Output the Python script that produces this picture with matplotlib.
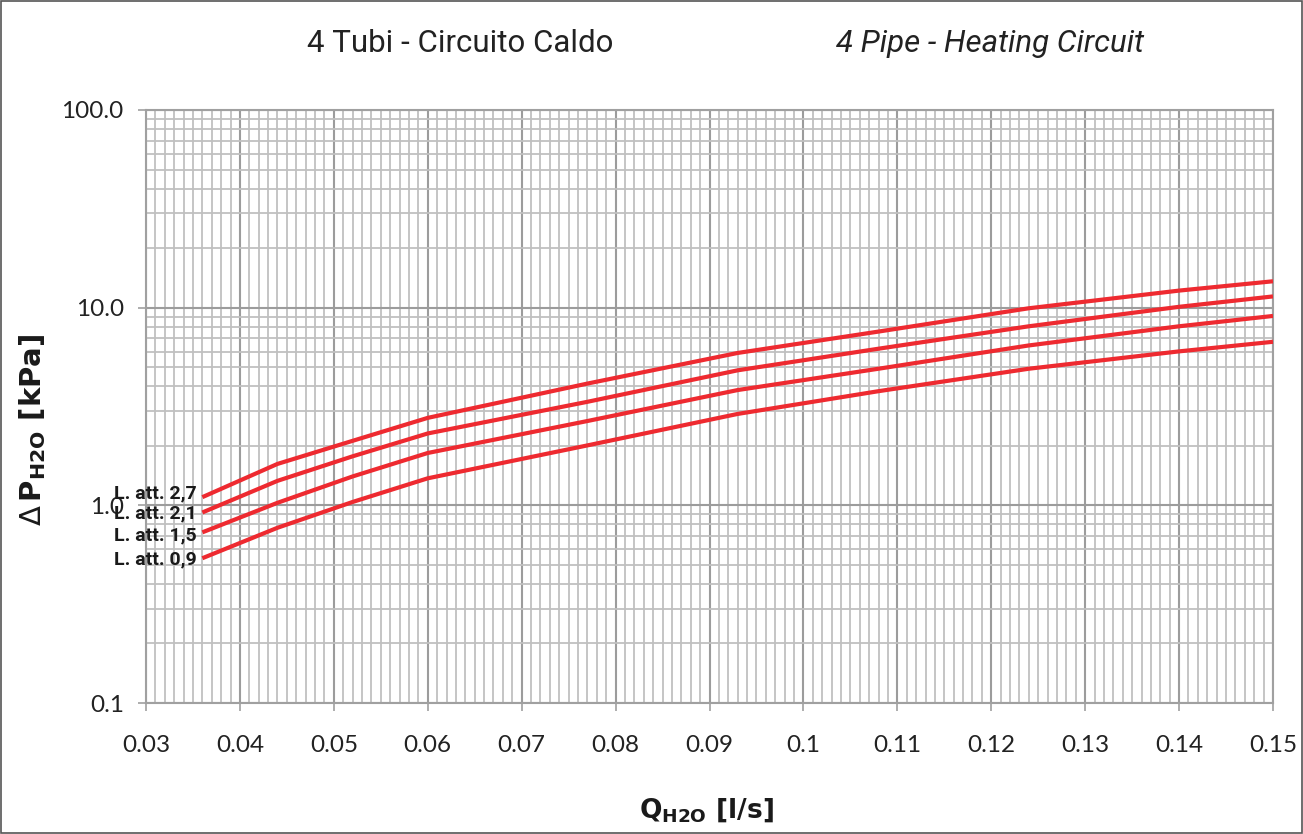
import numpy as np
import matplotlib
matplotlib.use('agg')
from matplotlib import pyplot as plt
from matplotlib.ticker import FixedLocator, FixedFormatter, MultipleLocator, NullFormatter, LogLocator

# flow rate [l/s]
flow = [0.036, 0.044, 0.052, 0.060, 0.077, 0.093, 0.108, 0.124, 0.140, 0.150]

# pressure drop [kPa], one list per line length
dp_27 = [1.10, 1.62, 2.12, 2.77, 4.13, 5.90, 7.57, 9.93, 12.2, 13.6]
dp_21 = [0.92, 1.33, 1.77, 2.31, 3.34, 4.82, 6.20, 8.05, 10.1, 11.4]
dp_15 = [0.73, 1.03, 1.40, 1.84, 2.67, 3.83, 4.91, 6.44, 8.05, 9.08]
dp_09 = [0.54, 0.77, 1.04, 1.37, 2.01, 2.90, 3.78, 4.91, 6.01, 6.72]

series = [dp_27, dp_21, dp_15, dp_09]
labels = ["L. att. 2,7", "L. att. 2,1", "L. att. 1,5", "L. att. 0,9"]

x_ticks = [0.03, 0.04, 0.05, 0.06, 0.07, 0.08, 0.09, 0.1, 0.11, 0.12, 0.13, 0.14, 0.15]
x_tick_labels = ["0.03", "0.04", "0.05", "0.06", "0.07", "0.08", "0.09", "0.1",
                 "0.11", "0.12", "0.13", "0.14", "0.15"]
y_ticks = [0.1, 1, 10, 100]
y_tick_labels = ["0.1", "1.0", "10.0", "100.0"]

NARROW = ['Roboto', 'DejaVu Sans']
TICKFONT = ['Lato', 'DejaVu Sans']
RED = '#ee2a30'

fig = plt.figure(figsize=(13.03, 8.34), dpi=100)
ax = fig.add_axes([146 / 1303, 1 - 703 / 834, (1273 - 146) / 1303, (703 - 110) / 834])

ax.set_yscale('log')
ax.set_xlim(0.03, 0.15)
ax.set_ylim(0.1, 100)

ax.xaxis.set_major_locator(FixedLocator(x_ticks))
ax.xaxis.set_major_formatter(FixedFormatter(x_tick_labels))
ax.xaxis.set_minor_locator(MultipleLocator(0.001))
ax.yaxis.set_major_locator(FixedLocator(y_ticks))
ax.yaxis.set_major_formatter(FixedFormatter(y_tick_labels))
ax.yaxis.set_minor_locator(LogLocator(base=10, subs=np.arange(2, 10)))
ax.yaxis.set_minor_formatter(NullFormatter())

ax.grid(which='minor', color='#c0c0c0', linewidth=1.3)
ax.grid(which='major', color='#9c9c9c', linewidth=1.5)
ax.set_axisbelow(True)

ax.tick_params(which='major', direction='out', length=6, width=1.2, color='#a0a0a0')
ax.tick_params(which='minor', length=0)
ax.tick_params(axis='x', pad=17)
ax.tick_params(axis='y', pad=10)
for lab in ax.get_xticklabels() + ax.get_yticklabels():
    lab.set_family(TICKFONT)
    lab.set_fontsize(17.5)
    lab.set_color('#222222')

for s in ax.spines.values():
    s.set_color('#a0a0a0')
    s.set_linewidth(1.5)

# small vertical nudges so the stacked labels sit like in the original
nudge = [3, -1, -2, -1]
for vals, name, dy in zip(series, labels, nudge):
    ax.plot(flow, vals, color=RED, linewidth=3, solid_capstyle='butt', zorder=3)
    ax.annotate(name, xy=(flow[0], vals[0]), xytext=(-4, dy), textcoords='offset points',
                ha='right', va='center', fontsize=14, fontweight='bold',
                family=NARROW, color='#1a1a1a', zorder=4)

fig.text(460 / 1303, 1 - 44 / 834, "4 Tubi - Circuito Caldo", ha='center', va='center',
         fontsize=22.5, family=NARROW, color='#222222')
fig.text(990 / 1303, 1 - 44 / 834, "4 Pipe - Heating Circuit", ha='center', va='center',
         fontsize=22.5, family=NARROW, style='italic', color='#222222')

fig.text(706 / 1303, 1 - 810 / 834, r"$\mathbf{Q}_{\mathbf{H2O}}$ [l/s]", ha='center', va='center',
         fontsize=19, fontweight='bold', color='#1a1a1a')
fig.text(33 / 1303, 1 - 430 / 834, r"$\Delta\,\mathbf{P}_{\mathbf{H2O}}$ [kPa]", ha='center', va='center',
         rotation=90, fontsize=21, fontweight='bold', color='#1a1a1a')

fig.patches.append(plt.Rectangle((0.0008, 0.0012), 0.9984, 0.9976, transform=fig.transFigure,
                                 fill=False, edgecolor='#555555', linewidth=1.2))

fig.savefig('out.png', dpi=100)
plt.close(fig)
